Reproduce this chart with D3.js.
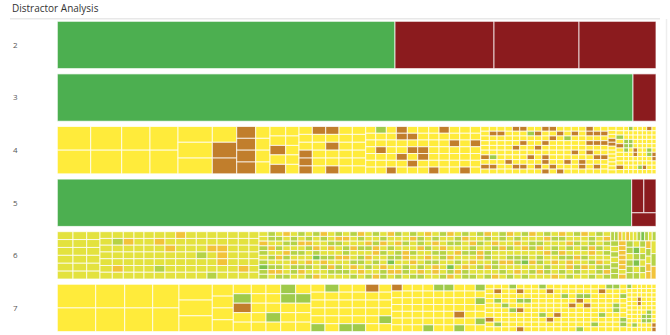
<!DOCTYPE html>
<html>
<head>
<meta charset="utf-8">
<script src="https://cdn.jsdelivr.net/npm/d3@7"></script>
<style>
  html, body { margin: 0; padding: 0; background: #fff; }
  svg { display: block; }
</style>
</head>
<body>
<svg id="chart" width="670" height="335"></svg>
<script>
// Distractor analysis: one treemap strip per answer count.
// Each strip is a list of columns [weight, content]; content is either a string
// (one colour code per cell, stacked) or a nested list of bands/sub-columns.

const rowLabels = ["2", "3", "4", "5", "6", "7"];

const colours = {
  G: "#4caf50", // correct
  R: "#8b1b1e", // distractor chosen
  y: "#ffeb3b",
  b: "#c17e2c",
  g: "#9fca4b",
  e: "#e3e23e",
  l: "#b5d246",
  o: "#f2c33a",
  d: "#7cc24c"
};

const row2 = [[337.7, "G"], [99, "R"], [85, "R"], [77, "R"]];

const row3 = [[575.7, "G"], [23, "R"]];

const row4 = [
  [33.4, "yy"], [31, "yy"], [28.3, "yy"], [28, "yy"], [34.3, "yyy"], [24.4, "ybb"],
  [19, "bbbb"], [14.3, "yyyy"], [15.7, "yybyb"], [13.3, "yyyyy"], [13.3, "yyybbb"],
  [13.4, "byyyyy"], [13.3, "bybyyb"], [13.3, "yyyyyy"], [13.4, "yyyyyy"],
  [10, "yyyyyyy"], [10.6, "gyybyyy"], [10, "yyyyyyb"], [11, "bbyybyy"], [10.4, "ybybyby"],
  [11, "yyybbyy"], [10.3, "yyyyyyb"], [10.3, "byyyyyy"], [10.4, "yybyyyy"], [10.6, "yyyyyyb"],
  [10.4, "yybyyyy"],
  [8.6, "yyyyyybyby"], [7.7, "ybyyyygyby"], [8, "ybyyyyyyyy"],
  [7.36, "yyyyyyybyy"], [7.36, "byyybyyyby"], [7.36, "byybyyyyby"], [7.36, "ygyyyybyyy"],
  [7.36, "ybyybyyyby"], [7.36, "byybyybbyb"], [7.36, "bybyyyyyby"], [7.36, "ybyyyyyyyb"],
  [7.36, "yygyyyybyy"], [7.36, "ybyyybyyyy"], [7.36, "yyyyyyybby"], [7.36, "bbybybyyyy"],
  [7.36, "ybybyybyby"], [7.36, "ybybyybyyy"],
  [8, "yyybbyyyyyyy"], [7.7, "yygybyyyyby"],
  [4.7, "yyygggyyyyy"], [4.6, "gyyggyyyyyy"], [4.6, "yyyyybbyyyy"], [4.7, "yyyyyyyyygy"],
  [4.3, "yyyyyyyyyby"], [5.3, "byyyyggyyyy"], [4, "yyyyyybbyyy"]
];

const row5 = [[574.4, "G"], [24.3, [[34, "RR"], [13.7, "R"]]]];

const row6 = [
  [15.7, "eeeeee"], [13.7, "eeeeee"], [13.3, "eeeeee"], [12.3, "eeeeeee"],
  [11, "eleeeoe"], [10.7, "eoeeeee"], [10, "eeeeeee"], [10.3, "eeeeeee"], [10.7, "eoeeele"],
  [10.7, "eeoeeee"], [10, "oeeeeee"], [10.6, "eeeeeee"], [10.7, "eeeleee"], [10, "eeoeeel"],
  [10.7, "eeoooee"], [10.6, "eeeeeee"], [10.7, "eeeeeoe"], [10, "eeeeeee"],
  [9, "eeolleldll"],
  [7.45, "lleoeleloe"], [7.45, "eleleoelol"], [7.45, "oeleoleeel"], [7.45, "elleleolle"],
  [7.45, "leoeleeloe"], [7.45, "eloleeolel"], [7.45, "leeoldeeeo"], [7.45, "oleeelolee"],
  [7.45, "eeloeleole"], [7.45, "loleeoelle"], [7.45, "eoelloeele"], [7.45, "leeoeeloel"],
  [7.45, "olelelleoe"], [7.45, "eeoleoelel"], [7.45, "lelooeleeo"], [7.45, "eloeleeoll"],
  [7.45, "oeeleldeoe"], [7.45, "leoelleeol"], [7.45, "eeleooelle"], [7.45, "loeeleoeel"],
  [7.45, "elloeeelol"], [7.45, "oeeleoleee"], [7.45, "eloelelooe"], [7.45, "leeolleeel"],
  [7.45, "oeleeoedlo"], [7.45, "elleoeleoe"], [7.45, "loeeleeoll"], [7.45, "eeolleoeel"],
  [7.45, "leleooelee"], [7.45, "oleelleoel"], [7.45, "eeoleelleo"], [7.45, "lleoeeoele"],
  [7.45, "oeeleloeel"], [7.45, "eloeelleoe"], [7.45, "leeoeldeel"], [7.45, "oelleeoele"],
  [7.45, "eeloelleoe"], [7.45, "loeeoeelle"], [7.45, "elelleoeeo"], [7.45, "oleeoleele"],
  [7.45, "eeolelooel"], [7.45, "leleeoelle"], [7.45, "oeeleleoee"], [7.45, "ellooeleel"],
  [7.45, "leeleeolle"], [7.45, "eoleleelol"],
  [45.3, [
    [9, "lloeoeeldlel"],
    [37, [[7.3, "lelelll"], [7, "ooooooeo"], [6.5, "llelll"], [6, "edldel"],
          [5.5, "lelele"], [5, "oleoo"], [4.5, "elo"]]]
  ]]
];

const row7 = [
  [38.4, "yy"], [29, "yy"], [28, "yy"], [26.3, "yy"], [33.3, "yyy"], [21, "yyyy"],
  [18, "ygbyy"], [14.7, "yyyyy"], [14.7, "yyygy"], [15, "ggyyy"], [15.3, "ygyyy"],
  [14, "yyyyyg"], [14, "gyyyyy"], [13.3, "yyyyyg"], [13.4, "yyyyyg"], [13.3, "byyyyy"],
  [12.7, "yyyygy"],
  [10.6, "byyyyyy"], [10, "yyyyyyy"], [10.7, "yyyyyyy"], [10.7, "yyyyyyg"], [10.3, "gyyyyyy"],
  [10, "gyyyyyy"], [10.7, "yyyybyg"], [10.6, "yyyyyyy"], [10, "gygyygy"],
  [8.7, "yyyyyyybyy"], [7.6, "ybygyyyygy"],
  [7.45, "yyyygyyyyy"], [7.45, "gyyyygyyyy"], [7.45, "ybygybyyyb"], [7.45, "yyygyyyyyy"],
  [7.45, "yyyyyyyyyy"], [7.45, "gyyyyygyyy"], [7.45, "ybyyyyybyy"], [7.45, "yyyyyybyyy"],
  [7.45, "yygyyyyyyy"], [7.45, "yyyybyyyyy"], [7.45, "yygbyyyyyg"], [7.45, "yygybyyyyy"],
  [7.45, "yyyyyyyygy"], [7.45, "ybyyyygyyy"],
  [7, "gyyyyyyyyy"], [7, "gyyyggyyyy"], [7, "yygyyyyggy"], [5, "gyyyyyyyyyy"],
  [5.5, "yyyyyyyyygy"], [4, "yyybbyyyyyy"], [5, "yyyyyyyggyy"], [5.5, "yyyyyygggyy"],
  [4.1, "yyyyyyyyybb"]
];

const rows = [row2, row3, row4, row5, row6, row7];

// ---- layout ----
const svg = d3.select("#chart");
const x0 = 57.3, x1 = 656;

const y = d3.scaleBand()
  .domain(rowLabels)
  .range([21.3, 331.6])
  .paddingInner(0.1)
  .paddingOuter(0);

// Title and frame
svg.append("text")
  .attr("x", 12).attr("y", 11.5)
  .attr("font-family", "'Open Sans', sans-serif")
  .attr("font-size", 10)
  .attr("fill", "#333")
  .text("Distractor Analysis");

svg.append("line")
  .attr("x1", 10).attr("x2", 660)
  .attr("y1", 18.8).attr("y2", 18.8)
  .attr("stroke", "#e8e8e8").attr("stroke-width", 1.5);

svg.append("line")
  .attr("x1", 666.5).attr("x2", 666.5)
  .attr("y1", 19).attr("y2", 335)
  .attr("stroke", "#eeeeee").attr("stroke-width", 1.5);

// Turn [weight, content] lists into a hierarchy whose leaf values share the parent value.
function toNode(content, value) {
  if (typeof content === "string") {
    const codes = Array.from(content);
    if (codes.length === 1) return { code: codes[0], value };
    return { children: codes.map(c => ({ code: c, value: value / codes.length })) };
  }
  const total = d3.sum(content, d => d[0]);
  return { children: content.map(([w, c]) => toNode(c, value * w / total)) };
}

const treemap = d3.treemap()
  .tile(d3.treemapSliceDice)
  .size([x1 - x0, y.bandwidth()])
  .round(false);

rows.forEach((cols, i) => {
  const label = rowLabels[i];
  const total = d3.sum(cols, d => d[0]);
  const root = d3.hierarchy(toNode(cols, total))
    .sum(d => d.children ? 0 : d.value);
  treemap(root);

  svg.append("text")
    .attr("x", 13)
    .attr("y", y(label) + y.bandwidth() / 2)
    .attr("dy", "0.35em")
    .attr("font-family", "'Open Sans', sans-serif")
    .attr("font-size", 8)
    .attr("fill", "#555")
    .text(label);

  const g = svg.append("g")
    .attr("transform", `translate(${x0},${y(label)})`);

  g.selectAll("rect")
    .data(root.leaves())
    .join("rect")
    .attr("x", d => d.x0)
    .attr("y", d => d.y0)
    .attr("width", d => Math.max(0, d.x1 - d.x0))
    .attr("height", d => Math.max(0, d.y1 - d.y0))
    .attr("fill", d => colours[d.data.code])
    .attr("stroke", "rgba(255,255,255,0.75)")
    .attr("stroke-width", 1);
});
</script>
</body>
</html>
